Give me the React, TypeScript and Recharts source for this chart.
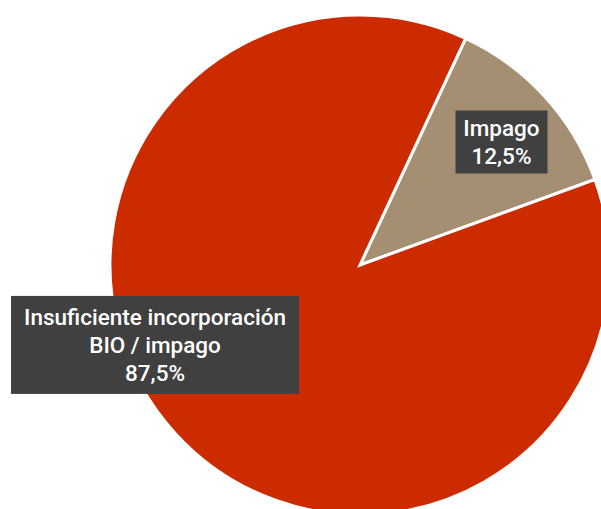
import { Cell, Pie, PieChart } from "recharts"

// Categories and shares (%)
const categories = ["Impago", "Insuficiente incorporación BIO / impago"]
const shares = [12.5, 87.5]
const labelLines = [["Impago"], ["Insuficiente incorporación", "BIO / impago"]]

const sliceColors = ["#A58F73", "#CC2B00"]

// where each label box sits: angle (deg), radius fraction, box size
const labelPlacement = [
  { angle: 41, radius: 0.75, w: 92, h: 63 },
  { angle: 201.3, radius: 0.88, w: 288, h: 98 },
]

const data = categories.map((name, i) => ({ name, value: shares[i] }))

const RADIAN = Math.PI / 180
const LINE_HEIGHT = 28

function formatPct(v: number) {
  return v.toFixed(1).replace(".", ",") + "%"
}

function renderLabel(props: any) {
  const { cx, cy, outerRadius, index } = props
  const place = labelPlacement[index]
  const r = outerRadius * place.radius
  const x = cx + r * Math.cos(-place.angle * RADIAN)
  const y = cy + r * Math.sin(-place.angle * RADIAN)
  const lines = [...labelLines[index], formatPct(shares[index])]
  const first = y - ((lines.length - 1) * LINE_HEIGHT) / 2

  return (
    <g key={`label-${index}`}>
      <rect x={x - place.w / 2} y={y - place.h / 2} width={place.w} height={place.h} fill="#404040" />
      {lines.map((line, i) => (
        <text
          key={i}
          x={x}
          y={first + i * LINE_HEIGHT}
          textAnchor="middle"
          dominantBaseline="central"
          fill="#ffffff"
          fontSize={22.5}
          fontWeight={500}
          fontFamily="Roboto, sans-serif"
        >
          {line}
        </text>
      ))}
    </g>
  )
}

export default function App() {
  return (
    <div style={{ position: "absolute", left: 0, top: 0, width: 601, height: 509, background: "#ffffff" }}>
      <PieChart width={601} height={509} margin={{ top: 0, right: 0, bottom: 0, left: 0 }}>
        <Pie
          data={data}
          dataKey="value"
          nameKey="name"
          cx={360}
          cy={265}
          outerRadius={250}
          startAngle={65}
          endAngle={-295}
          stroke="#ffffff"
          strokeWidth={3}
          label={renderLabel}
          labelLine={false}
          isAnimationActive={false}
        >
          {data.map((entry, i) => (
            <Cell key={entry.name} fill={sliceColors[i]} />
          ))}
        </Pie>
      </PieChart>
    </div>
  )
}
